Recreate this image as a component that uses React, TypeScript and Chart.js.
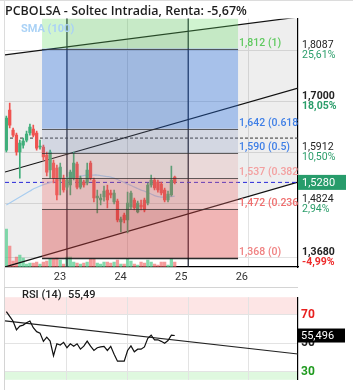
import React, { useEffect, useRef } from 'react';
import { Chart, registerables } from 'chart.js';

Chart.register(...registerables);

// ---------- data ----------
const titleText = 'PCBOLSA - Soltec Intradia, Renta: -5,67%';
const dayLabels = ['23', '24', '25', '26'];
const dayTickIdx = [18, 36, 54, 72];
const xRange = [-0.4, 86.6];

const opens = [1.5966, 1.6814, 1.639, 1.6284, 1.5924, 1.6072, 1.6178, 1.6327, 1.6411, 1.6327, 1.603, 1.603, 1.586, 1.5542, 1.569, 1.5584, 1.5372, 1.5372, 1.5181, 1.5224, 1.5372, 1.5669, 1.5181, 1.5287, 1.5266, 1.569, 1.533, 1.4948, 1.4906, 1.4969, 1.5118, 1.5054, 1.4863, 1.4884, 1.4439, 1.4588, 1.4481, 1.4757, 1.4906, 1.4651, 1.48, 1.4906, 1.4842, 1.5224, 1.533, 1.5287, 1.5245, 1.5118, 1.4906, 1.5012, 1.5393];
const highs = [1.6687, 1.6963, 1.6433, 1.6327, 1.6178, 1.6221, 1.6369, 1.6518, 1.6496, 1.6369, 1.6178, 1.6072, 1.5924, 1.5966, 1.5754, 1.5648, 1.569, 1.5436, 1.5393, 1.5542, 1.5924, 1.5712, 1.5415, 1.533, 1.569, 1.5733, 1.5372, 1.5118, 1.5033, 1.5203, 1.5224, 1.5118, 1.5118, 1.4927, 1.4545, 1.463, 1.5075, 1.5096, 1.4948, 1.4884, 1.4906, 1.4948, 1.5266, 1.5436, 1.5372, 1.533, 1.5287, 1.516, 1.5096, 1.5627, 1.5415];
const lows = [1.5924, 1.6433, 1.6242, 1.586, 1.5372, 1.6008, 1.6136, 1.6284, 1.6242, 1.5966, 1.5987, 1.5754, 1.5415, 1.5372, 1.5266, 1.4906, 1.5012, 1.5075, 1.5118, 1.5012, 1.533, 1.5139, 1.5139, 1.5181, 1.5224, 1.533, 1.4863, 1.463, 1.48, 1.4884, 1.4736, 1.4948, 1.4821, 1.4439, 1.4227, 1.4418, 1.4206, 1.4715, 1.4694, 1.463, 1.4694, 1.4651, 1.48, 1.5181, 1.5118, 1.5075, 1.5012, 1.4863, 1.4863, 1.499, 1.5245];
const closes = [1.6645, 1.6496, 1.6284, 1.5924, 1.6115, 1.6157, 1.6305, 1.6454, 1.6284, 1.6008, 1.6051, 1.5818, 1.5499, 1.5924, 1.5372, 1.5012, 1.5606, 1.5118, 1.533, 1.5499, 1.569, 1.5181, 1.5372, 1.5224, 1.5542, 1.5372, 1.4948, 1.499, 1.4948, 1.5096, 1.4906, 1.5012, 1.5054, 1.4481, 1.4503, 1.4481, 1.4842, 1.5054, 1.4736, 1.4842, 1.4757, 1.4694, 1.5224, 1.533, 1.516, 1.5118, 1.5054, 1.4906, 1.5033, 1.533, 1.528];
const volumes = [380, 210, 60, 100, 120, 90, 30, 40, 40, 50, 30, 50, 60, 80, 80, 90, 70, 30, 100, 100, 50, 40, 30, 40, 50, 80, 80, 40, 30, 50, 50, 40, 50, 70, 30, 30, 80, 60, 30, 20, 50, 40, 70, 50, 30, 20, 50, 50, 20, 80, 50];
const sma100 = [1.48, 1.4842, 1.4884, 1.4927, 1.4969, 1.5012, 1.5054, 1.5096, 1.5139, 1.5171, 1.5203, 1.5234, 1.5256, 1.5277, 1.5298, 1.5319, 1.5341, 1.5362, 1.5372, 1.5383, 1.5393, 1.5404, 1.5415, 1.5425, 1.5436, 1.5436, 1.5436, 1.5436, 1.5425, 1.5415, 1.5404, 1.5393, 1.5372, 1.5341, 1.5309, 1.5277, 1.5245, 1.5214, 1.5181, 1.515, 1.5118, 1.5096, 1.5065, 1.5033, 1.5001, 1.498, 1.4969, 1.4969, 1.4969, 1.498, 1.499];
const rsi14 = [72.3, 68.9, 65.5, 59.5, 62.1, 62.8, 64.4, 65.7, 61.0, 58.2, 57.2, 51.4, 54.4, 51.6, 41.3, 49.7, 48.8, 50.7, 46.9, 49.7, 47.9, 49.7, 45.9, 48.0, 51.6, 48.0, 45.0, 46.9, 47.5, 47.9, 45.0, 47.9, 42.4, 37.5, 37.5, 37.5, 45.0, 48.2, 44.1, 45.9, 45.9, 47.5, 53.5, 55.7, 52.5, 52.5, 51.4, 50.1, 52.0, 55.7, 55.5];

const priceTicks = [1.8087, 1.7, 1.5912, 1.4824, 1.368];
const pctLabels = ['25,61%', '18,05%', '10,50%', '2,94%', '-4,99%'];
const boldTicks = [1.7, 1.368];
const lastPrice = 1.528;
const dottedLevel = 1.622;

const fibLevels = [1.812, 1.642, 1.59, 1.537, 1.472, 1.368];
const fibRatios = ['1', '0.618', '0.5', '0.382', '0.236', '0'];
const fibRange = [10.6, 68.8];
const bandRange = [18, 54];
const markerIdx = [18, 54];

const channelUpper = [1.7984, 1.8787];
const channelMid = [1.55, 1.7281];
const channelLower = [1.3485, 1.5287];

const rsiLevels = [30, 50, 70];
const rsiTrend = [65.8, 42.5];
const rsiLast = 55.496;
const rsiTitle = ['RSI (14)', '55,49'];

// ---------- styles ----------
const UP = '#3fae7a';
const DOWN = '#ef5350';
const fibZoneColors = [
  'rgba(100,220,100,0.30)',
  'rgba(40,110,225,0.36)',
  'rgba(120,140,185,0.24)',
  'rgba(220,140,140,0.22)',
  'rgba(235,110,110,0.32)',
  'rgba(220,70,70,0.40)',
];
const fibLabelColors = ['#5fc95f', '#3f7fe6', '#3f7fe6', '#f3a0a0', '#ef6f6f', '#f08282'];

const fmt = (v: number, d: number) => v.toFixed(d).replace('.', ',');

function seg(a: number[], extra: any) {
  return {
    type: 'line',
    data: [
      { x: xRange[0], y: a[0] },
      { x: xRange[1], y: a[1] },
    ],
    pointRadius: 0,
    borderWidth: 1.2,
    fill: false,
    ...extra,
  };
}

const mainOverlay = {
  id: 'mainOverlay',
  afterDatasetsDraw(chart: any) {
    const { ctx, chartArea: a, scales } = chart;
    const x = scales.x;
    const y = scales.y;
    ctx.save();
    ctx.beginPath();
    ctx.rect(a.left, a.top, a.right - a.left, a.bottom - a.top);
    ctx.clip();
    const x0 = x.getPixelForValue(fibRange[0]);
    const x1 = x.getPixelForValue(fibRange[1]);
    const bounds = [y.max, ...fibLevels];
    for (let k = 0; k < fibZoneColors.length; k++) {
      const yt = y.getPixelForValue(bounds[k]);
      const yb = y.getPixelForValue(bounds[k + 1]);
      ctx.fillStyle = fibZoneColors[k];
      ctx.fillRect(x0, yt, x1 - x0, yb - yt);
    }
    const b0 = x.getPixelForValue(bandRange[0]);
    const b1 = x.getPixelForValue(bandRange[1]);
    ctx.fillStyle = 'rgba(0,0,0,0.045)';
    const ytop = y.getPixelForValue(y.max);
    ctx.fillRect(b0, ytop, b1 - b0, y.getPixelForValue(fibLevels[5]) - ytop);
    fibLevels.forEach((lv, k) => {
      const py = Math.round(y.getPixelForValue(lv)) + 0.5;
      ctx.strokeStyle = k === 5 ? 'rgba(20,20,20,0.9)' : 'rgba(50,50,50,0.75)';
      ctx.lineWidth = k === 5 ? 1.5 : 1;
      ctx.beginPath();
      ctx.moveTo(x0, py);
      ctx.lineTo(x1, py);
      ctx.stroke();
      ctx.font = "500 10.5px Roboto";
      ctx.textAlign = 'left';
      ctx.textBaseline = 'middle';
      ctx.fillStyle = fibLabelColors[k];
      ctx.fillText(`${fmt(lv, 3)} (${fibRatios[k]})`, x1 + 1, py - 6.5);
    });
    ctx.restore();
  },
  afterDraw(chart: any) {
    const { ctx, chartArea: a, scales } = chart;
    const y = scales.y;
    ctx.save();
    ctx.textAlign = 'left';
    ctx.textBaseline = 'middle';
    priceTicks.forEach((v, k) => {
      const py = y.getPixelForValue(v) + 5;
      const bold = boldTicks.includes(v);
      ctx.font = `${bold ? 'bold' : 'normal'} 10.5px Roboto`;
      ctx.fillStyle = pctLabels[k].startsWith('-') ? '#ee2b2b' : '#2a9d6a';
      ctx.fillText(pctLabels[k], a.right + 4, py);
    });
    const cy = y.getPixelForValue(lastPrice);
    ctx.fillStyle = '#279c6b';
    ctx.fillRect(a.right, cy - 7.5, 48, 15);
    ctx.fillStyle = '#ffffff';
    ctx.font = '11px Roboto';
    ctx.fillText(fmt(lastPrice, 4), a.right + 4, cy + 0.5);
    ctx.fillStyle = '#aad2f6';
    ctx.font = 'bold 11px Roboto';
    ctx.fillText('SMA (100)', 21, 29);
    ctx.strokeStyle = '#dcdcdc';
    ctx.lineWidth = 1;
    ctx.beginPath();
    ctx.moveTo(a.left - 0.5, 0);
    ctx.lineTo(a.left - 0.5, chart.height);
    ctx.moveTo(0, 0.5);
    ctx.lineTo(chart.width, 0.5);
    ctx.stroke();
    ctx.restore();
  },
};

const rsiOverlay = {
  id: 'rsiOverlay',
  beforeDraw(chart: any) {
    const { ctx, chartArea: a, scales } = chart;
    const y = scales.y;
    ctx.save();
    ctx.fillStyle = '#fde5e5';
    const y70 = y.getPixelForValue(70);
    ctx.fillRect(a.left, a.top, a.right - a.left, y70 - a.top);
    ctx.fillStyle = '#dff8df';
    const y30 = y.getPixelForValue(30);
    ctx.fillRect(a.left, y30, a.right - a.left, a.bottom - y30);
    ctx.restore();
  },
  afterDraw(chart: any) {
    const { ctx, chartArea: a, scales } = chart;
    const y = scales.y;
    ctx.save();
    ctx.textAlign = 'left';
    ctx.textBaseline = 'middle';
    ctx.fillStyle = '#222';
    ctx.font = '500 11px Roboto';
    ctx.fillText(rsiTitle[0], 22, 8.5);
    ctx.fillText(rsiTitle[1], 68, 8.5);
    const py = y.getPixelForValue(rsiLast);
    ctx.fillStyle = '#000';
    ctx.fillRect(a.right, py - 7, 47, 14);
    ctx.fillStyle = '#fff';
    ctx.font = '11px Roboto';
    ctx.fillText(fmt(rsiLast, 3), a.right + 3, py + 0.5);
    ctx.strokeStyle = '#d4d4d4';
    ctx.lineWidth = 1;
    ctx.beginPath();
    ctx.moveTo(a.left - 0.5, 0);
    ctx.lineTo(a.left - 0.5, chart.height);
    ctx.moveTo(a.left, 0.5);
    ctx.lineTo(a.right, 0.5);
    ctx.stroke();
    ctx.restore();
  },
};

export default function App() {
  const mainRef = useRef<HTMLCanvasElement>(null);
  const rsiRef = useRef<HTMLCanvasElement>(null);

  useEffect(() => {
    const candleColors = closes.map((c, i) => (c >= opens[i] ? UP : DOWN));
    const volColors = closes.map((c, i) => (c >= opens[i] ? 'rgba(90,205,145,0.75)' : 'rgba(240,100,100,0.65)'));
    const idx = closes.map((_, i) => i);

    const main = new Chart(mainRef.current as HTMLCanvasElement, {
      type: 'bar',
      data: {
        datasets: [
          seg(channelUpper, { borderColor: '#111', fill: 3, backgroundColor: 'rgba(0,0,0,0.065)', order: 100 }),
          seg(channelMid, { borderColor: '#111', order: 80 }),
          seg([dottedLevel, dottedLevel], { borderColor: '#333', borderWidth: 1, borderDash: [3, 2], order: 80 }),
          seg(channelLower, { borderColor: '#111', order: 80 }),
          seg([lastPrice, lastPrice], { borderColor: '#2626d8', borderWidth: 1, borderDash: [4, 3], order: 79 }),
          ...markerIdx.map((m) => ({
            type: 'line',
            data: [
              { x: m, y: 1.2 },
              { x: m, y: 2.0 },
            ],
            borderColor: '#141828',
            borderWidth: 1.2,
            pointRadius: 0,
            fill: false,
            order: 80,
          })),
          {
            type: 'bar',
            yAxisID: 'yVol',
            data: idx.map((i) => ({ x: i, y: volumes[i] })),
            backgroundColor: volColors,
            barThickness: 2.6,
            grouped: false,
            order: 90,
          },
          {
            type: 'line',
            data: idx.map((i) => ({ x: i, y: sma100[i] })),
            borderColor: '#a9cdef',
            borderWidth: 1.3,
            pointRadius: 0,
            fill: false,
            tension: 0.3,
            order: 70,
          },
          {
            type: 'bar',
            data: idx.map((i) => ({ x: i, y: [lows[i], highs[i]] })),
            backgroundColor: candleColors,
            barThickness: 1,
            grouped: false,
            order: 60,
          },
          {
            type: 'bar',
            data: idx.map((i) => ({ x: i, y: [opens[i], closes[i]] })),
            backgroundColor: candleColors,
            barThickness: 2.6,
            minBarLength: 1,
            grouped: false,
            order: 50,
          },
        ] as any,
      },
      options: {
        responsive: false,
        devicePixelRatio: 1,
        animation: false,
        events: [],
        layout: { padding: { left: 5, right: 0, top: 0, bottom: 0 } },
        plugins: {
          legend: { display: false },
          tooltip: { enabled: false },
          title: {
            display: true,
            text: titleText,
            align: 'start',
            color: '#1e1e1e',
            font: { family: "'Open Sans', sans-serif", size: 12.5, weight: '600' },
            padding: { top: 3.5, bottom: 0 },
          },
        },
        scales: {
          x: {
            type: 'linear',
            offset: false,
            min: xRange[0],
            max: xRange[1],
            afterBuildTicks: (s: any) => {
              s.ticks = dayTickIdx.map((v) => ({ value: v }));
            },
            afterFit: (s: any) => {
              s.height = 20;
            },
            ticks: {
              callback: (v: any) => dayLabels[dayTickIdx.indexOf(Number(v))] ?? '',
              color: '#333',
              font: { family: 'Roboto', size: 11 },
              padding: 4,
              labelOffset: -7,
              maxRotation: 0,
              autoSkip: false,
            },
            grid: { color: '#e3e3e3', drawTicks: false, offset: false },
            border: { display: true, color: '#000', width: 1.2 },
          },
          y: {
            type: 'linear',
            position: 'right',
            min: 1.34847,
            max: 1.87572,
            afterBuildTicks: (s: any) => {
              s.ticks = priceTicks.map((v) => ({ value: v }));
            },
            afterFit: (s: any) => {
              s.width = 55;
            },
            ticks: {
              callback: (v: any) => fmt(Number(v), 4),
              color: '#222',
              font: (c: any) => ({
                family: 'Roboto',
                size: 10.5,
                weight: c.tick && boldTicks.includes(c.tick.value) ? 'bold' : 'normal',
              }),
              padding: 4,
              labelOffset: -5,
              autoSkip: false,
            },
            grid: { color: '#e3e3e3', drawTicks: false },
            border: { display: true, color: '#000', width: 1.2 },
          },
          yVol: {
            type: 'linear',
            display: false,
            min: 0,
            max: 2490,
          },
        },
      } as any,
      plugins: [mainOverlay],
    });

    const rsiChart = new Chart(rsiRef.current as HTMLCanvasElement, {
      type: 'line',
      data: {
        datasets: [
          {
            data: idx.map((i) => ({ x: i, y: rsi14[i] })),
            borderColor: '#111',
            borderWidth: 1.2,
            pointRadius: 0,
            fill: false,
            order: 1,
          },
          {
            data: [
              { x: xRange[0], y: rsiTrend[0] },
              { x: xRange[1], y: rsiTrend[1] },
            ],
            borderColor: '#222',
            borderWidth: 1.1,
            pointRadius: 0,
            fill: false,
            order: 2,
          },
        ] as any,
      },
      options: {
        responsive: false,
        devicePixelRatio: 1,
        animation: false,
        events: [],
        layout: { padding: { left: 5, right: 0, top: 0, bottom: 0 } },
        plugins: { legend: { display: false }, tooltip: { enabled: false } },
        scales: {
          x: {
            type: 'linear',
            offset: false,
            min: xRange[0],
            max: xRange[1],
            afterBuildTicks: (s: any) => {
              s.ticks = dayTickIdx.map((v) => ({ value: v }));
            },
            afterFit: (s: any) => {
              s.height = 0;
            },
            ticks: { display: false },
            grid: { color: '#e3e3e3', drawTicks: false },
            border: { display: false },
          },
          y: {
            type: 'linear',
            position: 'right',
            min: 24.4,
            max: 82.4,
            afterBuildTicks: (s: any) => {
              s.ticks = rsiLevels.map((v) => ({ value: v }));
            },
            afterFit: (s: any) => {
              s.width = 55;
            },
            ticks: {
              callback: (v: any) => String(v),
              color: (c: any) => (c.tick && c.tick.value === 70 ? '#e8201f' : c.tick && c.tick.value === 30 ? '#1f9a1f' : '#222'),
              font: { family: 'Roboto', size: 12, weight: 'bold' },
              padding: 3,
              autoSkip: false,
            },
            grid: { color: '#e3e3e3', drawTicks: false },
            border: { display: true, color: '#000', width: 1.2 },
          },
        },
      } as any,
      plugins: [rsiOverlay],
    });

    return () => {
      main.destroy();
      rsiChart.destroy();
    };
  }, []);

  return (
    <div style={{ position: 'fixed', left: 0, top: 0, width: 353, height: 390, background: '#fff', overflow: 'hidden' }}>
      <canvas ref={mainRef} width={353} height={287} style={{ position: 'absolute', left: 0, top: 0, width: 353, height: 287 }} />
      <canvas ref={rsiRef} width={353} height={103} style={{ position: 'absolute', left: 0, top: 287, width: 353, height: 103 }} />
    </div>
  );
}
